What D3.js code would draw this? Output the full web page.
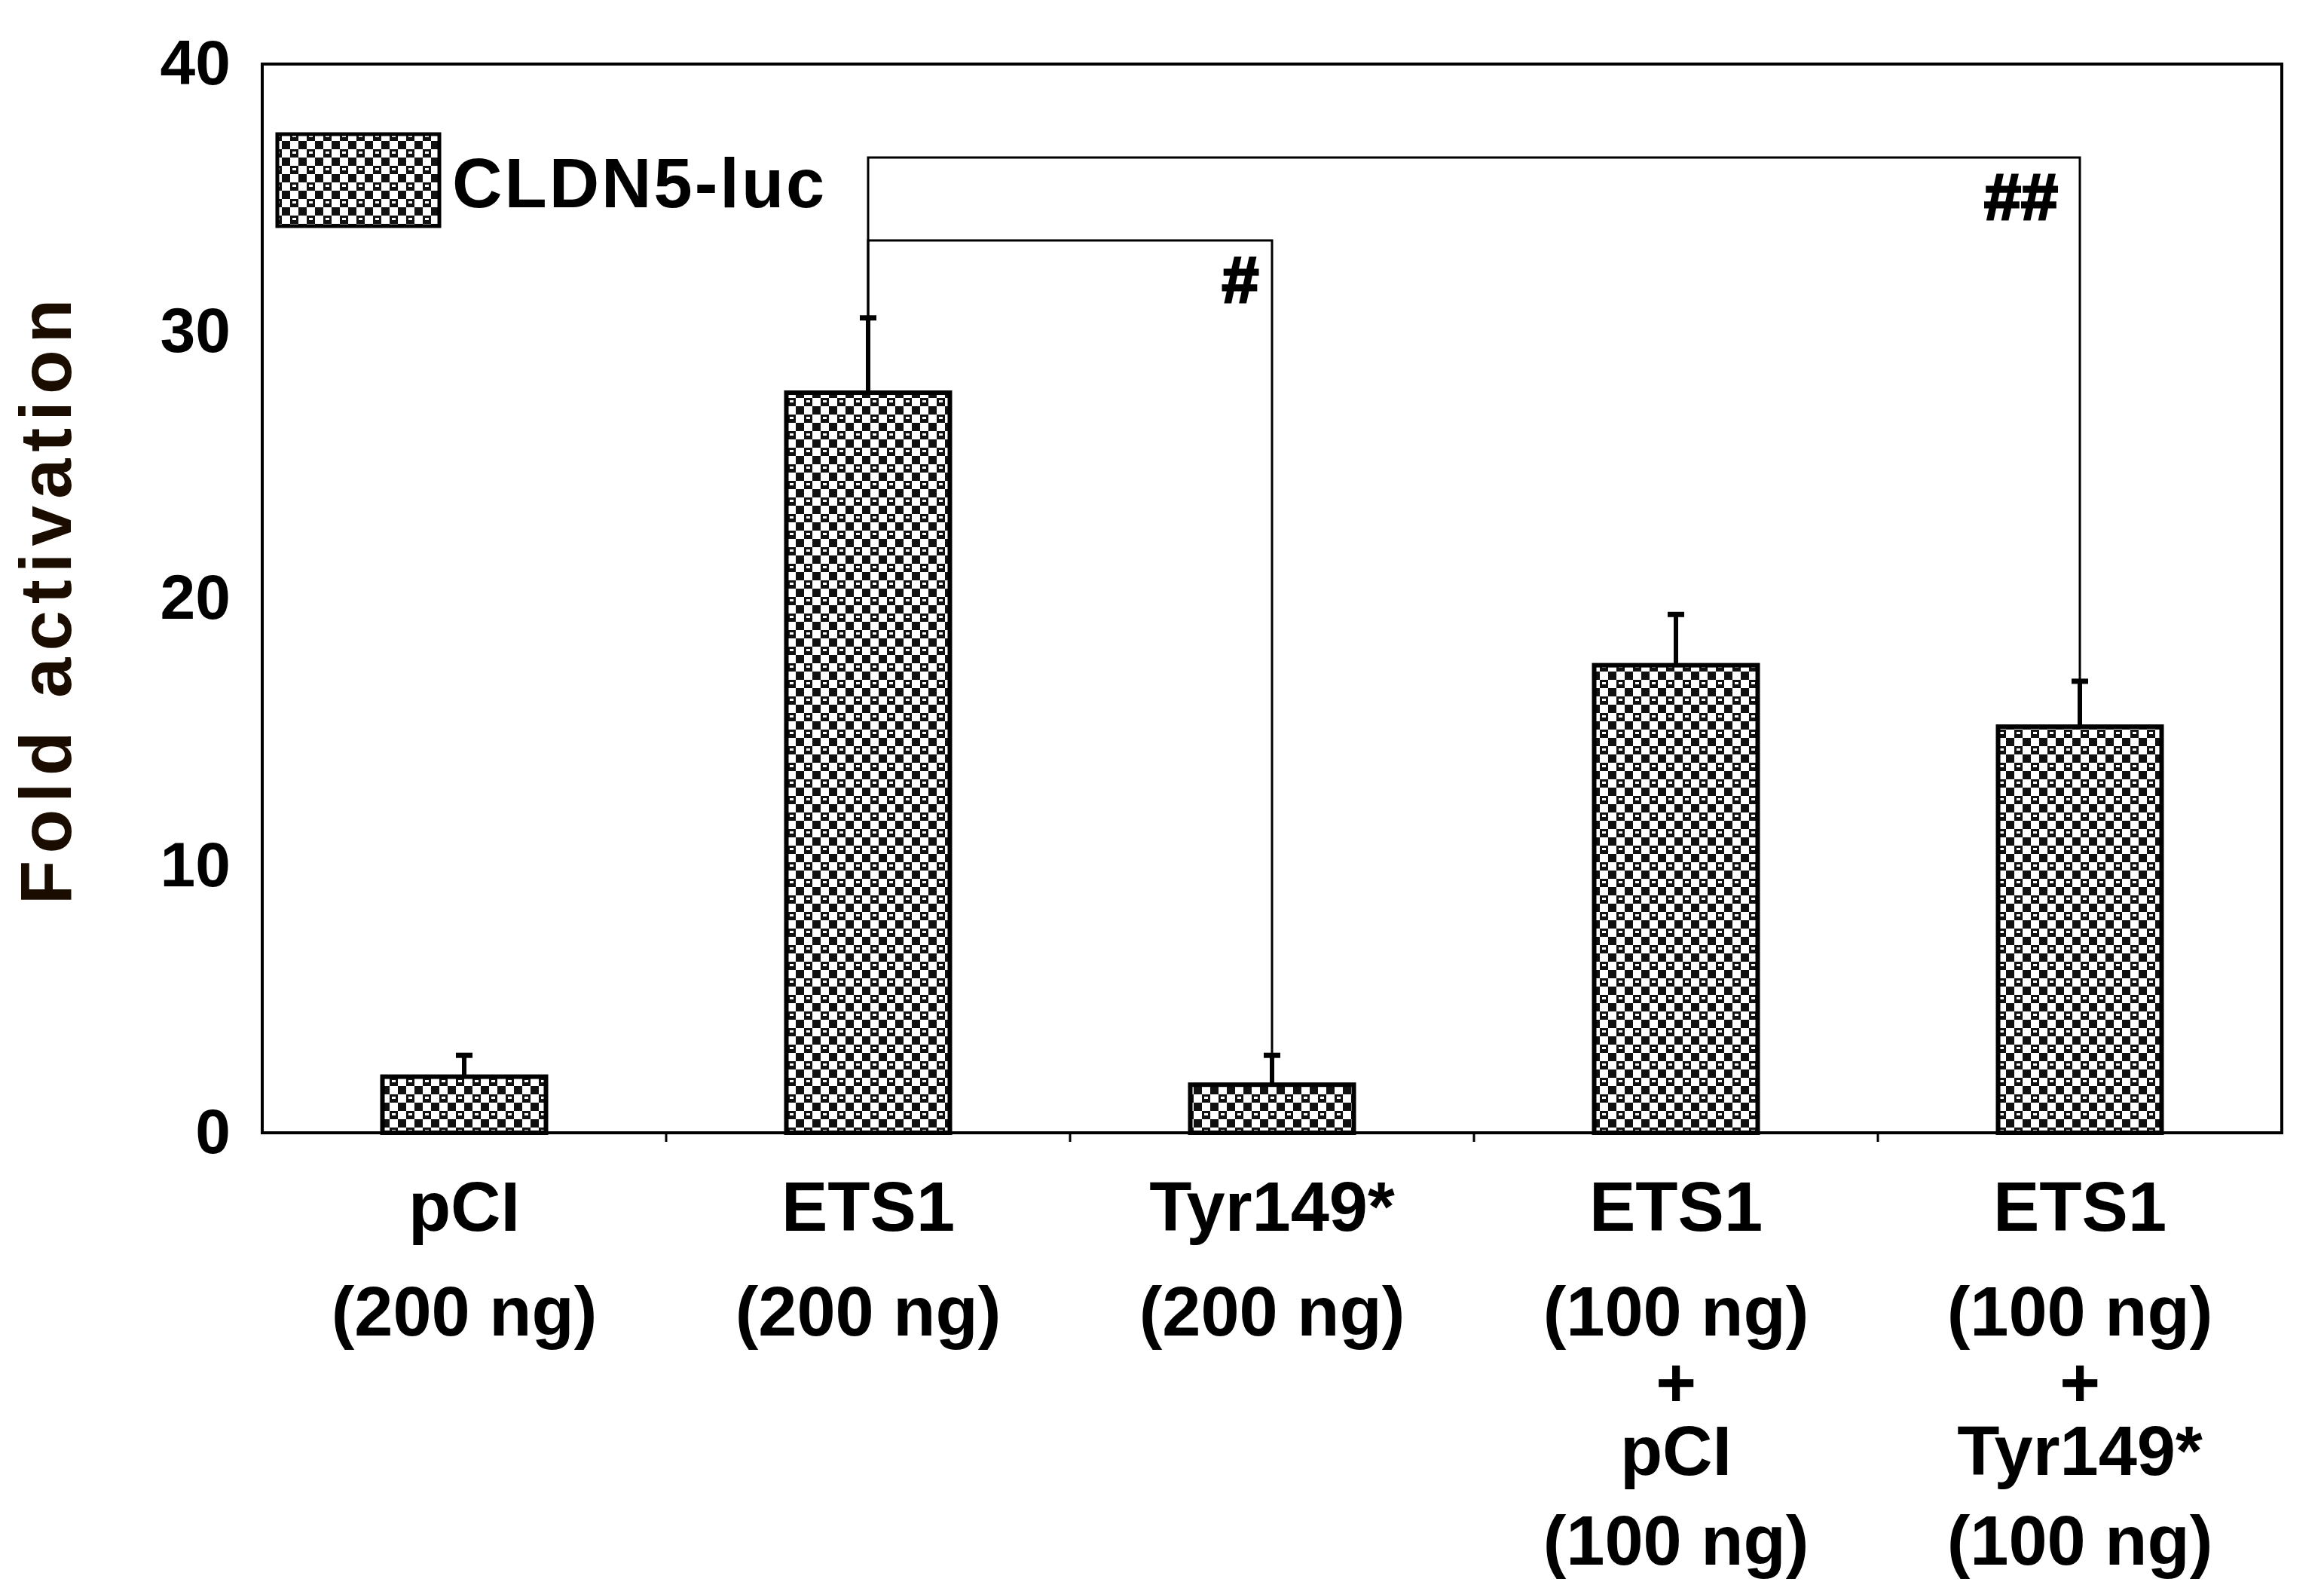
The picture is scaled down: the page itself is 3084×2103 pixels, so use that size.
<!DOCTYPE html>
<html>
<head>
<meta charset="utf-8">
<script src="https://cdn.jsdelivr.net/npm/d3@7"></script>
<style>
  body { margin: 0; background: #fff; }
  text { font-family: "Liberation Sans", Arial, sans-serif; font-weight: bold; fill: #000; }
</style>
</head>
<body>
<div id="chart"></div>
<script>
const width = 3084;
const height = 2103;

// data
const categories = ["pCI", "ETS1", "Tyr149*", "ETS1+pCI", "ETS1+Tyr149*"];
const labelLines = [
  ["pCI", "(200 ng)"],
  ["ETS1", "(200 ng)"],
  ["Tyr149*", "(200 ng)"],
  ["ETS1", "(100 ng)", "+", "pCI", "(100 ng)"],
  ["ETS1", "(100 ng)", "+", "Tyr149*", "(100 ng)"]
];
const values = [2.1, 27.7, 1.8, 17.5, 15.2];
const errors = [0.8, 2.8, 1.1, 1.9, 1.7];
const yTicks = [0, 10, 20, 30, 40];

const margin = { left: 348, right: 56, top: 85, bottom: 600 };
const x0 = margin.left, x1 = width - margin.right;
const y0 = height - margin.bottom, y1 = margin.top;

const svg = d3.select("#chart").append("svg")
  .attr("width", width)
  .attr("height", height);

// checker/dot fill like the original hatch
const defs = svg.append("defs");
const pat = defs.append("pattern")
  .attr("id", "checker")
  .attr("patternUnits", "userSpaceOnUse")
  .attr("width", 22).attr("height", 22);
pat.append("rect").attr("width", 22).attr("height", 22).attr("fill", "#111");
pat.append("rect").attr("x", 0).attr("y", 0).attr("width", 11).attr("height", 11).attr("fill", "#fff");
pat.append("rect").attr("x", 11).attr("y", 11).attr("width", 11).attr("height", 11).attr("fill", "#fff");
pat.append("rect").attr("x", 14).attr("y", 3).attr("width", 5).attr("height", 3).attr("fill", "#fff");
pat.append("rect").attr("x", 3).attr("y", 14).attr("width", 5).attr("height", 3).attr("fill", "#111");

const x = d3.scaleBand().domain(categories).range([x0, x1]);
const y = d3.scaleLinear().domain([0, 40]).range([y0, y1]);
const barW = 217;

// frame
svg.append("rect")
  .attr("x", x0).attr("y", y1)
  .attr("width", x1 - x0).attr("height", y0 - y1)
  .attr("fill", "none").attr("stroke", "#000").attr("stroke-width", 4);

// y axis
const yAxis = svg.append("g")
  .attr("transform", `translate(${x0},0)`)
  .call(d3.axisLeft(y).tickValues(yTicks).tickSize(0).tickPadding(42));
yAxis.select(".domain").remove();
yAxis.selectAll("text")
  .style("font-family", "Liberation Sans, Arial, sans-serif")
  .style("font-weight", "bold")
  .style("font-size", "84px");

// x band ticks
svg.append("g").selectAll("line")
  .data(categories.slice(1))
  .join("line")
  .attr("x1", d => x(d)).attr("x2", d => x(d))
  .attr("y1", y0).attr("y2", y0 + 12)
  .attr("stroke", "#000").attr("stroke-width", 3);

svg.append("text")
  .attr("transform", `translate(94,${(y0 + y1) / 2 + 0}) rotate(-90)`)
  .attr("text-anchor", "middle")
  .style("font-size", "96px")
  .style("letter-spacing", "9px")
  .style("fill", "#1a0d00")
  .text("Fold activation");

// error bars
const cx = d => x(d) + x.bandwidth() / 2;
const eg = svg.append("g");
eg.selectAll("line.err")
  .data(categories)
  .join("line")
  .attr("class", "err")
  .attr("x1", cx).attr("x2", cx)
  .attr("y1", (d, i) => y(values[i])).attr("y2", (d, i) => y(values[i] + errors[i]))
  .attr("stroke", "#000").attr("stroke-width", 6);
eg.selectAll("line.cap")
  .data(categories)
  .join("line")
  .attr("class", "cap")
  .attr("x1", d => cx(d) - 11).attr("x2", d => cx(d) + 11)
  .attr("y1", (d, i) => y(values[i] + errors[i])).attr("y2", (d, i) => y(values[i] + errors[i]))
  .attr("stroke", "#000").attr("stroke-width", 7);

// bars
svg.append("g").selectAll("rect")
  .data(categories)
  .join("rect")
  .attr("x", d => cx(d) - barW / 2)
  .attr("y", (d, i) => y(values[i]))
  .attr("width", barW)
  .attr("height", (d, i) => y0 - y(values[i]))
  .attr("fill", "url(#checker)")
  .attr("stroke", "#000").attr("stroke-width", 6);

// significance brackets
const brackets = [
  { from: 1, to: 2, level: 33.4, mark: "#", dx: -42 },
  { from: 1, to: 4, level: 36.5, mark: "##", dx: -78 }
];
const bg = svg.append("g").attr("fill", "none").attr("stroke", "#000").attr("stroke-width", 3);
brackets.forEach(b => {
  const xa = cx(categories[b.from]), xb = cx(categories[b.to]);
  const ya = y(values[b.from] + errors[b.from]);
  const yb = y(values[b.to] + errors[b.to]);
  bg.append("path").attr("d", `M${xa},${ya}V${y(b.level)}H${xb}V${yb}`);
  svg.append("text")
    .attr("x", xb + b.dx).attr("y", y(b.level) + 82)
    .attr("text-anchor", "middle")
    .style("font-size", "88px")
    .style("stroke", "#000").style("stroke-width", 3)
    .text(b.mark);
});

// legend
svg.append("rect")
  .attr("x", 368).attr("y", 178).attr("width", 215).attr("height", 122)
  .attr("fill", "url(#checker)").attr("stroke", "#000").attr("stroke-width", 5);
svg.append("text")
  .attr("x", 600).attr("y", 275)
  .style("font-size", "92px")
  .style("letter-spacing", "3px")
  .text("CLDN5-luc");

// category labels
const lineY = [1633, 1772, 1866, 1957, 2076];
const lg = svg.append("g");
labelLines.forEach((lines, i) => {
  lines.forEach((t, j) => {
    lg.append("text")
      .attr("x", cx(categories[i]))
      .attr("y", lineY[j])
      .attr("text-anchor", "middle")
      .style("font-size", "92px")
      .text(t);
  });
});
</script>
</body>
</html>
